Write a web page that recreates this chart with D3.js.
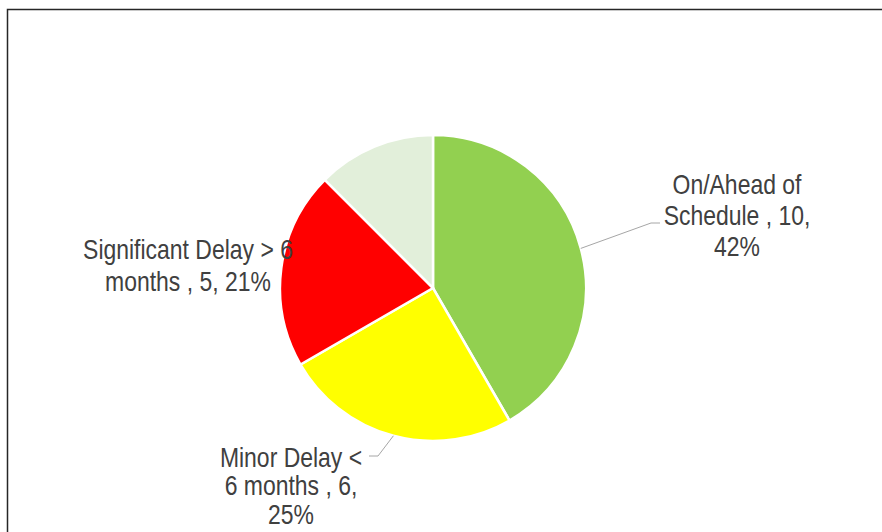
<!DOCTYPE html>
<html>
<head>
<meta charset="utf-8">
<script src="https://cdn.jsdelivr.net/npm/d3@7"></script>
<style>
    body { margin: 0; background: #fff; }
    svg { display: block; }
    .lbl { font-family: "Liberation Sans", Arial, sans-serif; font-size: 28px; fill: #404040; }
</style>
</head>
<body>
<svg id="chart" width="882" height="532"></svg>
<script>
"use strict";

// data
const categories = ["On/Ahead of Schedule", "Minor Delay < 6 months", "Significant Delay > 6 months", "Not Started"];
const counts = [10, 6, 5, 3];
const colours = ["#92d050", "#ffff00", "#ff0000", "#e2efda"];
// label lines as shown (the last slice carries no label)
const labelLines = [
    ["On/Ahead of", "Schedule , 10,", "42%"],
    ["Minor Delay <", "6 months , 6,", "25%"],
    ["Significant Delay > 6", "months , 5, 21%"],
    null
];

const svg = d3.select("#chart");
const W = 882, H = 532;

// chart frame (cut by the window on right and bottom)
svg.append("rect")
    .attr("x", 7.5).attr("y", 9.5)
    .attr("width", W + 20).attr("height", H + 20)
    .style("fill", "none").style("stroke", "#262626").style("stroke-width", 1.5);

const cx = 433, cy = 288, r = 153;
const g = svg.append("g").attr("transform", `translate(${cx},${cy})`);

const pie = d3.pie().sort(null).value(d => d)(counts);
const arc = d3.arc().innerRadius(0).outerRadius(r);

g.selectAll(".slice").data(pie).enter()
    .append("path")
    .attr("class", "slice")
    .attr("d", arc)
    .style("fill", (d, i) => colours[i])
    .style("stroke", "#fff").style("stroke-width", 2.5)
    .style("stroke-linejoin", "miter");

// label placement: block centre x, first baseline, line step, leader elbow/end (null = no leader)
const labelPos = [
    { x: 737, y: 194, step: 31, elbow: [651, 223], end: [660, 223] },
    { x: 291, y: 467, step: 28.5, elbow: [378, 456], end: [369, 456] },
    { x: 188, y: 259, step: 32, elbow: null, end: null },
    null
];
// no narrow face installed, so squeeze the regular one
const narrow = 0.82;

const edge = d => {
    const a = (d.startAngle + d.endAngle) / 2;
    return [cx + Math.sin(a) * r, cy - Math.cos(a) * r];
};

pie.forEach((d, i) => {
    const p = labelPos[i];
    if (!p) return;
    if (p.elbow) {
        svg.append("polyline")
            .attr("points", [edge(d), p.elbow, p.end].map(q => q.join(",")).join(" "))
            .style("fill", "none").style("stroke", "#a6a6a6").style("stroke-width", 1);
    }
    const t = svg.append("text").attr("class", "lbl")
        .attr("text-anchor", "middle")
        .attr("transform", `translate(${p.x},0) scale(${narrow},1)`);
    labelLines[i].forEach((line, k) => {
        t.append("tspan").attr("x", 0).attr("y", p.y + k * p.step).text(line);
    });
});
</script>
</body>
</html>
